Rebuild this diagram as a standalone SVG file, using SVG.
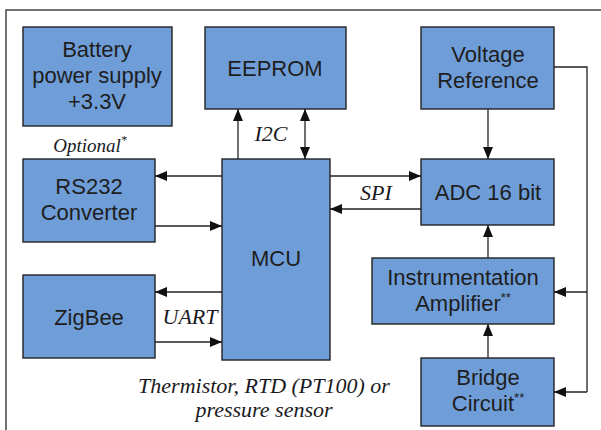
<svg xmlns="http://www.w3.org/2000/svg" width="601" height="430" viewBox="0 0 601 430">
<defs>
<marker id="ah" viewBox="0 0 12 10" refX="12" refY="5" markerWidth="12" markerHeight="10" markerUnits="userSpaceOnUse" orient="auto-start-reverse">
<path d="M0,0 L12,5 L0,10 z" fill="#111"/>
</marker>
<style>
.box{fill:#6f9dd8;stroke:#222;stroke-width:1.4}
.t{font-family:"Liberation Sans",Arial,sans-serif;font-size:22px;fill:#1e1e1e;text-anchor:middle}
.sup{font-size:13px}
.lbl{font-family:"Liberation Serif","Times New Roman",serif;font-style:italic;font-size:22px;fill:#1a1a22;text-anchor:middle}
.ln{fill:none;stroke:#222;stroke-width:1.3}
.frame{fill:none;stroke:#444;stroke-width:1.5}
</style>
</defs>
<rect width="601" height="430" fill="#fff"/>
<path class="frame" d="M6,430 V10 H601"/>

<g id="battery"><rect class="box" x="23" y="27" width="149" height="99"/>
<text class="t" x="97" y="57">Battery</text><text class="t" x="97" y="83">power supply</text><text class="t" x="97" y="109">+3.3V</text></g>
<g id="eeprom"><rect class="box" x="205" y="27" width="141" height="82"/>
<text class="t" x="275" y="76">EEPROM</text></g>
<g id="vref"><rect class="box" x="421" y="27" width="133" height="82"/>
<text class="t" x="488" y="62">Voltage</text><text class="t" x="488" y="88">Reference</text></g>
<g id="rs232"><rect class="box" x="23" y="159" width="132" height="83"/>
<text class="t" x="89" y="194">RS232</text><text class="t" x="89" y="220">Converter</text></g>
<g id="mcu"><rect class="box" x="222" y="159" width="108" height="201"/>
<text class="t" x="276" y="266">MCU</text></g>
<g id="adc"><rect class="box" x="421" y="159" width="133" height="66"/>
<text class="t" x="488" y="200">ADC 16 bit</text></g>
<g id="zigbee"><rect class="box" x="23" y="275" width="132" height="83"/>
<text class="t" x="89" y="325">ZigBee</text></g>
<g id="amp"><rect class="box" x="372" y="258" width="182" height="66"/>
<text class="t" x="463" y="285">Instrumentation</text><text class="t" x="463" y="311">Amplifier<tspan class="sup" dy="-9">**</tspan></text></g>
<g id="bridge"><rect class="box" x="421" y="358" width="133" height="68"/>
<text class="t" x="488" y="385">Bridge</text><text class="t" x="488" y="411">Circuit<tspan class="sup" dy="-9">**</tspan></text></g>

<g id="connectors">
<line class="ln" x1="238" y1="159" x2="238" y2="109" marker-end="url(#ah)"/>
<line class="ln" x1="305" y1="109" x2="305" y2="159" marker-start="url(#ah)" marker-end="url(#ah)"/>
<line class="ln" x1="222" y1="176" x2="155" y2="176" marker-end="url(#ah)"/>
<line class="ln" x1="155" y1="226" x2="222" y2="226" marker-end="url(#ah)"/>
<line class="ln" x1="330" y1="176" x2="421" y2="176" marker-end="url(#ah)"/>
<line class="ln" x1="421" y1="209" x2="330" y2="209" marker-end="url(#ah)"/>
<line class="ln" x1="222" y1="292" x2="155" y2="292" marker-end="url(#ah)"/>
<line class="ln" x1="155" y1="342" x2="222" y2="342" marker-end="url(#ah)"/>
<line class="ln" x1="488" y1="109" x2="488" y2="159" marker-end="url(#ah)"/>
<line class="ln" x1="488" y1="258" x2="488" y2="225" marker-end="url(#ah)"/>
<line class="ln" x1="488" y1="358" x2="488" y2="324" marker-end="url(#ah)"/>
<path class="ln" d="M554,67 H587 V392"/>
<line class="ln" x1="587" y1="292" x2="554" y2="292" marker-end="url(#ah)"/>
<line class="ln" x1="587" y1="392" x2="554" y2="392" marker-end="url(#ah)"/>
</g>

<g id="labels">
<text class="lbl" x="271" y="141">I2C</text>
<text class="lbl" x="376" y="200">SPI</text>
<text class="lbl" x="190" y="324">UART</text>
<text class="lbl" x="90" y="152" style="font-size:19px">Optional<tspan style="font-size:12px" dy="-8">*</tspan></text>
<text class="lbl" x="264" y="393">Thermistor, RTD (PT100) or</text>
<text class="lbl" x="264" y="417">pressure sensor</text>
</g>
</svg>
